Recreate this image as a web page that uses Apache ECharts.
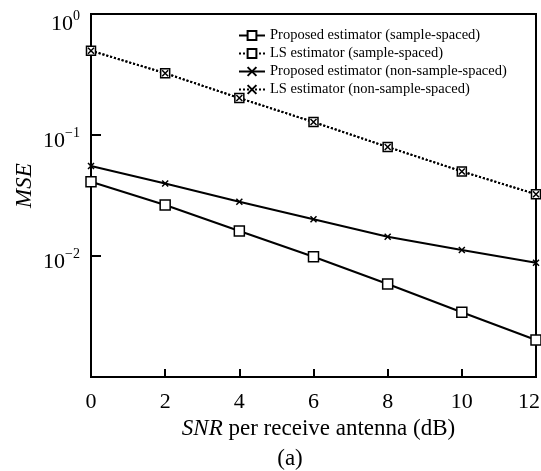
<!DOCTYPE html>
<html>
<head>
<meta charset="utf-8">
<script src="https://cdn.jsdelivr.net/npm/echarts@6/dist/echarts.min.js"></script>
<style>html,body{margin:0;padding:0;background:#fff;}#c{width:541px;height:471px;}</style>
</head>
<body>
<div id="c"></div>
<script>
const snr = [0, 2, 4, 6, 8, 10, 12];
const proposedSample = [0.0411, 0.0264, 0.0161, 0.00986, 0.00587, 0.00343, 0.00202];
const lsSample = [0.497, 0.324, 0.202, 0.128, 0.0796, 0.0500, 0.0324];
const proposedNonSample = [0.0554, 0.0398, 0.0281, 0.0201, 0.0144, 0.0112, 0.0088];
const lsNonSample = [0.497, 0.324, 0.202, 0.128, 0.0796, 0.0500, 0.0324];
const seriesNames = ['Proposed estimator (sample-spaced)', 'LS estimator (sample-spaced)', 'Proposed estimator (non-sample-spaced)', 'LS estimator (non-sample-spaced)'];
const yTickExp = {'1': '0', '0.1': '\u22121', '0.01': '\u22122'};
const xName = '{i|SNR} per receive antenna (dB)';
const yName = 'MSE';
const caption = '(a)';

const FONT = 'Liberation Serif';
const cross = 'path://M0,0L10,10M0,10L10,0';
function pairs(v) { return snr.map((x, i) => [x, v[i]]); }
function mk(name, data, symbol, size, dotted) {
  const isRect = symbol === 'rect';
  return {
    name: name, type: 'line', data: pairs(data), symbol: symbol, symbolSize: size,
    clip: false,
    lineStyle: {color: '#000', width: 2, type: dotted ? 'dotted' : 'solid'},
    itemStyle: {color: isRect ? '#fff' : '#000', borderColor: '#000', borderWidth: 1.5},
    emphasis: {disabled: true}
  };
}
const chart = echarts.init(document.getElementById('c'));
chart.setOption({
  animation: false,
  backgroundColor: '#fff',
  grid: {left: 91, right: 5, top: 14, bottom: 94, show: true, borderColor: '#000', borderWidth: 2, backgroundColor: 'transparent', containLabel: false, outerBoundsMode: 'none'},
  legend: {
    orient: 'vertical', left: 233, top: 23, itemGap: 3, itemWidth: 26, itemHeight: 11,
    textStyle: {fontFamily: FONT, fontSize: 14.5, color: '#000'},
    data: seriesNames
  },
  xAxis: {
    type: 'value', min: 0, max: 12, interval: 2,
    axisLine: {show: true, lineStyle: {color: '#000', width: 2}},
    axisTick: {show: true, inside: true, length: 8, lineStyle: {color: '#000', width: 2}},
    axisLabel: {
      fontFamily: FONT, fontSize: 22, color: '#000', margin: 14,
      formatter: function (v) { return v === 12 ? '{r|' + v + '}' : '{n|' + v + '}'; },
      rich: {
        n: {fontFamily: FONT, fontSize: 22, color: '#000'},
        r: {fontFamily: FONT, fontSize: 22, color: '#000', padding: [0, 14, 0, 0]}
      }
    },
    splitLine: {show: false},
    name: xName, nameLocation: 'middle', nameGap: 34,
    nameTextStyle: {fontFamily: FONT, fontSize: 23, color: '#000', padding: [0, 0, 0, 10], rich: {i: {fontFamily: FONT, fontSize: 23, fontStyle: 'italic', color: '#000'}}}
  },
  yAxis: {
    type: 'log', min: 0.001, max: 1, logBase: 10,
    axisLine: {show: true, lineStyle: {color: '#000', width: 2}},
    axisTick: {show: true, inside: true, length: 10, lineStyle: {color: '#000', width: 2}},
    minorTick: {show: false},
    splitLine: {show: false},
    axisLabel: {
      margin: 11, showMinLabel: false, padding: [8, 0, 0, 0],
      formatter: function (v) {
        const k = String(+v.toPrecision(3));
        if (!(k in yTickExp)) return '';
        const body = '{b|10}{s|' + yTickExp[k] + '}';
        return k === '1' ? '{e| }\n' + body : body;
      },
      rich: {
        e: {fontSize: 6, lineHeight: 8},
        b: {fontFamily: FONT, fontSize: 22, color: '#000', lineHeight: 26, verticalAlign: 'bottom'},
        s: {fontFamily: FONT, fontSize: 14, color: '#000', lineHeight: 26, verticalAlign: 'top', padding: [0, 0, 4, 0]}
      }
    }
  },
  graphic: [
    {type: 'text', x: 13, y: 208, rotation: Math.PI / 2, style: {text: yName, fontFamily: FONT, fontSize: 23, fontStyle: 'italic', fill: '#000', align: 'left', verticalAlign: 'top'}},
    {type: 'text', x: 290, y: 459, style: {text: caption, fontFamily: FONT, fontSize: 23, fill: '#000', align: 'center', verticalAlign: 'middle'}}
  ],
  series: [
    mk(seriesNames[0], proposedSample, 'rect', 10, false),
    mk(seriesNames[1], lsSample, 'rect', 9, true),
    mk(seriesNames[2], proposedNonSample, cross, 6, false),
    mk(seriesNames[3], lsNonSample, cross, 6, true)
  ]
});
</script>
</body>
</html>
